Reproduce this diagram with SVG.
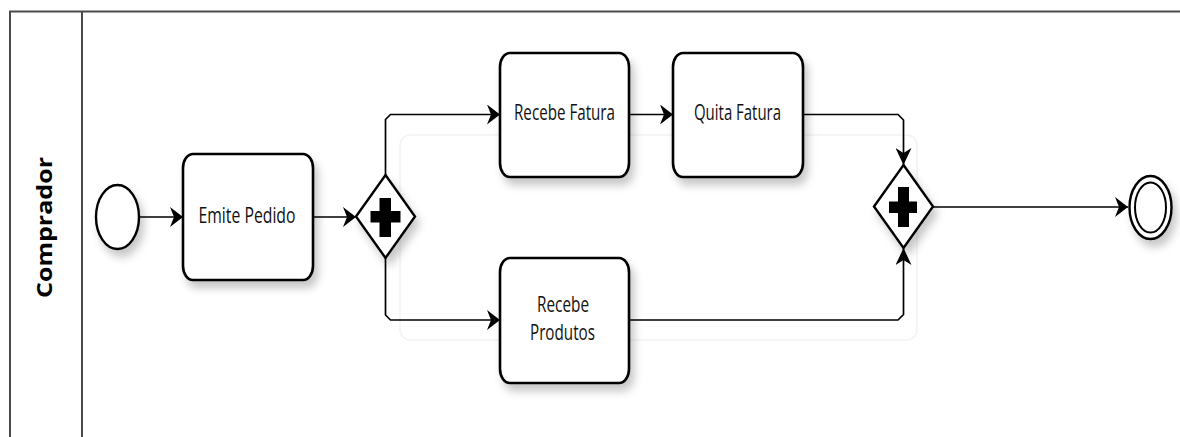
<svg xmlns="http://www.w3.org/2000/svg" width="1180" height="437" viewBox="0 0 1180 437">
  <style>
    .pool { fill: none; stroke: #4a4a4a; stroke-width: 2; }
    .task { fill: #ffffff; stroke: #000000; stroke-width: 2.6; filter: url(#shadow); }
    .gw { fill: #ffffff; stroke: #000000; stroke-width: 2.4; filter: url(#shadow); }
    .plus { fill: #000000; stroke: none; }
    .ev { fill: #ffffff; stroke: #000000; stroke-width: 2.4; filter: url(#shadow); }
    .flow { fill: none; stroke: #000000; stroke-width: 1.7; }
    .lbl { font-family: "Open Sans", "Liberation Sans", sans-serif; font-size: 22px; fill: #111111; text-anchor: middle; }
    .lane { font-family: "Open Sans", "Liberation Sans", sans-serif; font-size: 21px; font-weight: bold; fill: #000000; text-anchor: middle; }
    .ghost { fill: none; stroke: #f2f2f2; stroke-width: 1.5; }
  </style>
  <defs>
    <filter id="shadow" x="-30%" y="-30%" width="170%" height="180%">
      <feDropShadow dx="4" dy="7" stdDeviation="4" flood-color="#000000" flood-opacity="0.22"/>
    </filter>
    <marker id="arrH" markerUnits="userSpaceOnUse" markerWidth="14" markerHeight="20" refX="13" refY="10" orient="auto">
      <path d="M0,0 L13,10 L0,20 L4,10 Z" fill="#000000"/>
    </marker>
    <marker id="arrV" markerUnits="userSpaceOnUse" markerWidth="18" markerHeight="16" refX="17" refY="8" orient="auto">
      <path d="M0,0 L17,8 L0,16 L5,8 Z" fill="#000000"/>
    </marker>
  </defs>

  <rect width="1180" height="437" fill="#ffffff"/>

  <g id="pool">
    <path class="pool" d="M10,437 V11.5 H1180"/>
    <line class="pool" x1="82" y1="11.5" x2="82" y2="437"/>
  </g>

  <g id="lane-label">
    <text class="lane" transform="translate(52,227.5) rotate(-90)" textLength="141" lengthAdjust="spacingAndGlyphs">Comprador</text>
  </g>

  <rect class="ghost" x="400" y="135" width="517" height="205" rx="10" ry="10"/>

  <g id="connectors">
    <line class="flow" x1="139" y1="217" x2="183" y2="217" marker-end="url(#arrH)"/>
    <line class="flow" x1="313" y1="217" x2="356" y2="217" marker-end="url(#arrH)"/>
    <path class="flow" d="M385.5,175 V119.5 L390.5,114.5 H500" marker-end="url(#arrH)"/>
    <path class="flow" d="M385.5,258 V315 L390.5,320 H500" marker-end="url(#arrH)"/>
    <line class="flow" x1="629" y1="114.5" x2="673" y2="114.5" marker-end="url(#arrH)"/>
    <path class="flow" d="M803,114.5 H898 L903.5,120 V165" marker-end="url(#arrV)"/>
    <path class="flow" d="M629,320 H898 L903.5,314.5 V248" marker-end="url(#arrV)"/>
    <line class="flow" x1="933" y1="207" x2="1128" y2="207" marker-end="url(#arrH)"/>
  </g>

  <g id="start">
    <ellipse class="ev" cx="117.5" cy="217" rx="21.5" ry="32"/>
  </g>

  <g id="emite-pedido">
    <rect class="task" x="183" y="154" width="130" height="126" rx="10" ry="14"/>
    <text class="lbl" x="247" y="223" textLength="97" lengthAdjust="spacingAndGlyphs">Emite Pedido</text>
  </g>

  <g id="gateway-split">
    <polygon class="gw" points="385.5,175 415,216.5 385.5,258 356,216.5"/>
    <rect class="plus" x="370.5" y="211" width="30" height="11.5"/>
    <rect class="plus" x="379.5" y="198" width="11.5" height="39"/>
  </g>

  <g id="recebe-fatura">
    <rect class="task" x="500" y="53" width="129" height="124" rx="10" ry="14"/>
    <text class="lbl" x="564.5" y="120" textLength="101" lengthAdjust="spacingAndGlyphs">Recebe Fatura</text>
  </g>

  <g id="quita-fatura">
    <rect class="task" x="673" y="53" width="130" height="124" rx="10" ry="14"/>
    <text class="lbl" x="737.5" y="120" textLength="87" lengthAdjust="spacingAndGlyphs">Quita Fatura</text>
  </g>

  <g id="recebe-produtos">
    <rect class="task" x="500" y="258" width="129" height="125" rx="10" ry="14"/>
    <text class="lbl" x="563" y="312" textLength="52" lengthAdjust="spacingAndGlyphs">Recebe</text>
    <text class="lbl" x="562.5" y="340" textLength="65" lengthAdjust="spacingAndGlyphs">Produtos</text>
  </g>

  <g id="gateway-join">
    <polygon class="gw" points="903.5,165 933,206.5 903.5,248 874,206.5"/>
    <rect class="plus" x="889" y="201.5" width="28" height="11.5"/>
    <rect class="plus" x="898" y="187" width="11" height="40"/>
  </g>

  <g id="end">
    <ellipse class="ev" cx="1150.5" cy="207.5" rx="21" ry="31.5" stroke-width="3"/>
    <ellipse cx="1150.5" cy="207.5" rx="15.5" ry="25" fill="none" stroke="#000000" stroke-width="2"/>
  </g>
</svg>
